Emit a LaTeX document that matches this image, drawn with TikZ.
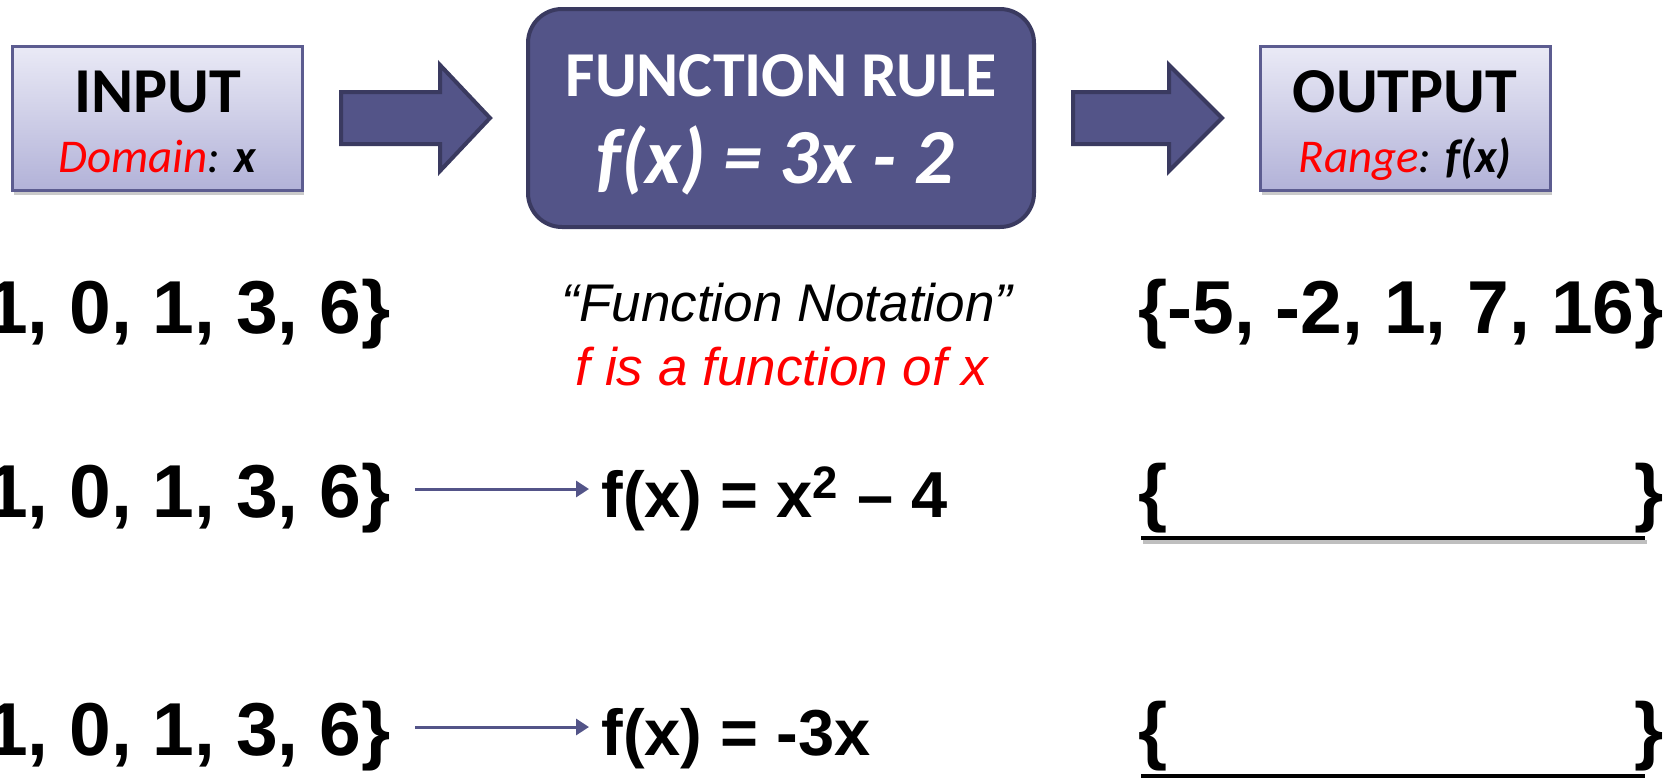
\documentclass[tikz,border=0pt]{standalone}
\usepackage{fontspec}
\setmainfont{Liberation Sans}
\newfontfamily\calibri{Carlito}
\usetikzlibrary{arrows.meta,shadows}

\definecolor{boxtop}{RGB}{234,234,246}
\definecolor{boxbot}{RGB}{178,178,216}
\definecolor{boxline}{RGB}{92,92,144}
\definecolor{rulefill}{RGB}{83,84,136}
\definecolor{ruleline}{RGB}{58,58,96}

\begin{document}
\begin{tikzpicture}[x=0.5pt,y=-0.5pt,
  iobox/.style={draw=boxline,line width=1.5pt,top color=boxtop,bottom color=boxbot,
    minimum width=145pt,minimum height=72pt,inner sep=0pt,
    drop shadow={shadow xshift=1pt,shadow yshift=-2.5pt,opacity=.35,fill=black!60}},
  rulebox/.style={draw=ruleline,line width=2pt,fill=rulefill,rounded corners=17pt,
    minimum width=253pt,minimum height=109pt,inner sep=0pt},
  bigarrow/.style={draw=ruleline,line width=2pt,fill=rulefill,line join=miter},
  head/.style={font=\calibri\bfseries\fontsize{32}{38}\selectfont,inner sep=0pt,anchor=base},
  sub/.style={font=\calibri\itshape\fontsize{23.5}{28}\selectfont,inner sep=0pt,anchor=base},
  set/.style={font=\bfseries\fontsize{37.5}{44}\selectfont,inner sep=0pt},
  rule/.style={font=\bfseries\fontsize{32.5}{38}\selectfont,inner sep=0pt,anchor=base west},
  link/.style={draw=rulefill,line width=1.5pt,-{Triangle[length=6.5pt,width=8pt]}},
  blank/.style={line width=2.2pt}]
  \useasboundingbox (0,0) rectangle (1678,778);

  % top row
  \node[iobox] (input) at (157,118) {};
  \node[head] (inputhead) at (158,112) {INPUT};
  \node[sub] (inputsub) at (157,172) {\textcolor{red}{Domain}: \textbf{x}};

  \draw[bigarrow] (341,92)--(440,92)--(440,65)--(490,118)--(440,171)--(440,144)--(341,144)--cycle;

  \node[rulebox] (rule) at (781,118) {};
  \node[head,text=white] (rulehead) at (781,96) {FUNCTION RULE};
  \node[head,text=white,font=\calibri\bfseries\itshape\fontsize{39}{46}\selectfont] (ruleeq) at (775,183) {f(x) = 3x - 2};

  \draw[bigarrow] (1073,92)--(1169,92)--(1169,65)--(1222,118)--(1169,171)--(1169,144)--(1073,144)--cycle;

  \node[iobox] (output) at (1405,118) {};
  \node[head] (outputhead) at (1405,112) {OUTPUT};
  \node[sub] (outputsub) at (1405,172) {\textcolor{red}{Range}: \textbf{f(x)}};

  % first example
  \node[set,anchor=base east] (lsetone) at (391,333) {1, 0, 1, 3, 6\}};
  \node[font=\itshape\fontsize{26.5}{32}\selectfont,inner sep=0pt,anchor=base] (note) at (787,321) {“Function Notation”};
  \node[font=\itshape\fontsize{26.5}{32}\selectfont,inner sep=0pt,anchor=base,text=red] (notesub) at (782,385) {f is a function of x};
  \node[set,anchor=base west] (rsetone) at (1138,333) {\{-5, -2, 1, 7, 16\}};

  % second example
  \node[set,anchor=base east] (lsettwo) at (391,517) {1, 0, 1, 3, 6\}};
  \node[rule] (ftwo) at (601,517) {f(x) = x\textsuperscript{2} – 4};
  \draw[link] ([shift={(24,-28)}]lsettwo.base east) -- ([shift={(-12,-28)}]ftwo.base west);
  \node[set,anchor=base west] (rsettwoa) at (1138,517) {\{};
  \node[set,anchor=base east] (rsettwob) at (1664,517) {\}};
  \draw[blank,black!25] (1143,542) -- (1647,542);
  \draw[blank] (1141,538) -- (1645,538);

  % third example
  \node[set,anchor=base east] (lsetthree) at (391,755) {1, 0, 1, 3, 6\}};
  \node[rule] (fthree) at (601,755) {f(x) = -3x};
  \draw[link] ([shift={(24,-28)}]lsetthree.base east) -- ([shift={(-12,-28)}]fthree.base west);
  \node[set,anchor=base west] (rsetthreea) at (1138,755) {\{};
  \node[set,anchor=base east] (rsetthreeb) at (1664,755) {\}};
  \draw[blank] (1141,776) -- (1645,776);
\end{tikzpicture}
\end{document}
